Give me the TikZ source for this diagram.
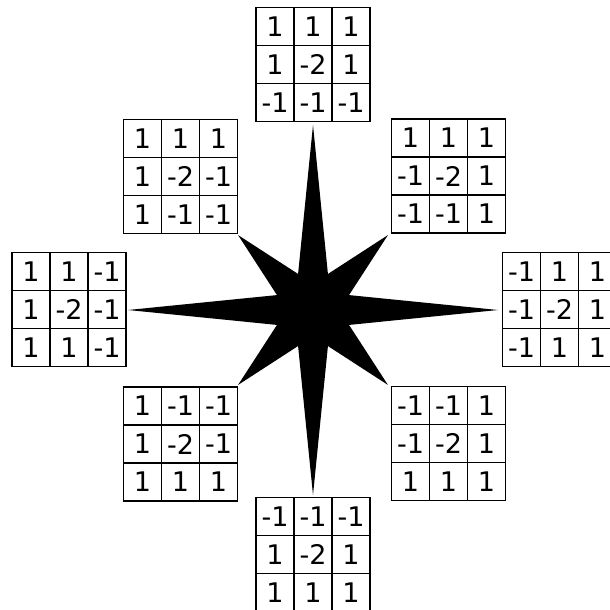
\documentclass[tikz,border=0pt]{standalone}
\usepackage{fontspec}
\setmainfont{DejaVu Sans}
\tikzset{
  cell/.style={draw, line width=1.6pt, minimum size=38pt, inner sep=0pt, font=\fontsize{27}{27}\selectfont},
}
\newcommand{\kgrid}[4]{%
  \foreach \v [count=\i from 0] in {#4}{%
    \pgfmathtruncatemacro\r{div(\i,3)}%
    \pgfmathtruncatemacro\c{mod(\i,3)}%
    \node[cell] (#1-\r-\c) at ({#2+(\c-1)*38},{#3+(\r-1)*38}) {\v};
  }%
}
\begin{document}
\begin{tikzpicture}[x=1pt,y=-1pt]
\useasboundingbox (0,0) rectangle (610,610);
\coordinate (center) at (313,310);
\fill[black,shift={(center)}]
  (0:185) -- (22.5:39) -- (45:106) -- (67.5:39) --
  (90:185) -- (112.5:39) -- (135:106) -- (157.5:39) --
  (180:185) -- (202.5:39) -- (225:106) -- (247.5:39) --
  (270:185) -- (292.5:39) -- (315:106) -- (337.5:39) -- cycle;
\kgrid{top}{313}{64.5}{1,1,1,1,-2,1,-1,-1,-1}
\kgrid{tr}{448.5}{176}{1,1,1,-1,-2,1,-1,-1,1}
\kgrid{right}{559.5}{309.5}{-1,1,1,-1,-2,1,-1,1,1}
\kgrid{br}{448.5}{443.5}{-1,-1,1,-1,-2,1,1,1,1}
\kgrid{bottom}{313}{554.5}{-1,-1,-1,1,-2,1,1,1,1}
\kgrid{bl}{180.5}{444}{1,-1,-1,1,-2,-1,1,1,1}
\kgrid{left}{69}{309.5}{1,1,-1,1,-2,-1,1,1,-1}
\kgrid{tl}{180.5}{176.5}{1,1,1,1,-2,-1,1,-1,-1}
\end{tikzpicture}
\end{document}
